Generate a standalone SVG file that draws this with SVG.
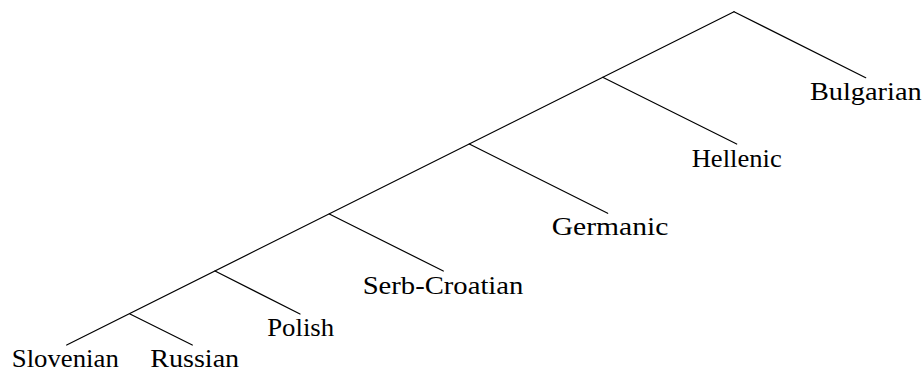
<svg xmlns="http://www.w3.org/2000/svg" width="924" height="371" viewBox="0 0 924 371">
<style>
.e{stroke:#000;stroke-width:1.2;fill:none;stroke-linecap:round}
.t{font-family:'Liberation Serif','DejaVu Serif','Times New Roman',serif;font-size:25px;fill:#000;text-anchor:middle}
</style>
<rect width="924" height="371" fill="#fff"/>
<g id="connectors">
<path class="e" d="M734,11.7 L66.7,345"/>
<path class="e" d="M734,11.7 L865.7,77.7"/>
<path class="e" d="M602.7,77.3 L736.7,144"/>
<path class="e" d="M469.3,144 L607.7,213.3"/>
<path class="e" d="M329.3,214 L443.3,271"/>
<path class="e" d="M215,271 L300,314"/>
<path class="e" d="M130,314 L192.3,345"/>
</g>
<g id="n-slovenian"><text class="t" x="65.3" y="367" textLength="107" lengthAdjust="spacingAndGlyphs" font-family="Liberation Serif, DejaVu Serif, serif">Slovenian</text></g>
<g id="n-russian"><text class="t" x="194.7" y="367" textLength="89" lengthAdjust="spacingAndGlyphs" font-family="Liberation Serif, DejaVu Serif, serif">Russian</text></g>
<g id="n-polish"><text class="t" x="300.7" y="336" textLength="67" lengthAdjust="spacingAndGlyphs" font-family="Liberation Serif, DejaVu Serif, serif">Polish</text></g>
<g id="n-serbcroatian"><text class="t" x="443" y="294" textLength="160.7" lengthAdjust="spacingAndGlyphs" font-family="Liberation Serif, DejaVu Serif, serif">Serb-Croatian</text></g>
<g id="n-germanic"><text class="t" x="610" y="235" textLength="116.7" lengthAdjust="spacingAndGlyphs" font-family="Liberation Serif, DejaVu Serif, serif">Germanic</text></g>
<g id="n-hellenic"><text class="t" x="736.7" y="166.5" textLength="90" lengthAdjust="spacingAndGlyphs" font-family="Liberation Serif, DejaVu Serif, serif">Hellenic</text></g>
<g id="n-bulgarian"><text class="t" x="865.8" y="100" textLength="111.7" lengthAdjust="spacingAndGlyphs" font-family="Liberation Serif, DejaVu Serif, serif">Bulgarian</text></g>
</svg>
